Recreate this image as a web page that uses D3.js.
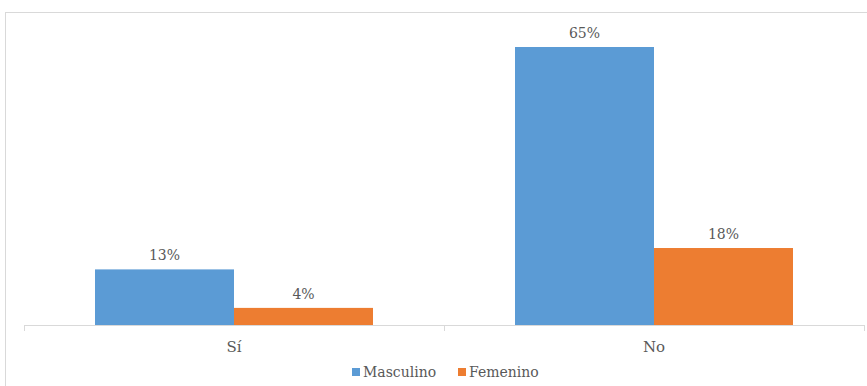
<html>
<head>
<meta charset="utf-8">
<style>
  body { margin: 0; background: #fff; }
</style>
</head>
<body>
<svg id="svg" width="867" height="386"></svg>
<script src="https://d3js.org/d3.v7.min.js"></script>
<script>

var categories = ["Sí", "No"];
var seriesNames = ["Masculino", "Femenino"];
var masculino = [13, 65];
var femenino = [4, 18];
var colors = ["#5B9BD5", "#ED7D31"];
var FONT = "'DejaVu Serif', 'Liberation Serif', serif";

var rows = categories.map((c, i) => ({ cat: c, vals: [masculino[i], femenino[i]] }));

var svg = d3.select("#svg");

// chart frame
svg.append("rect")
  .attr("x", 5.5).attr("y", 12.5)
  .attr("width", 880).attr("height", 400)
  .style("fill", "none").style("stroke", "#d9d9d9");

var x0 = d3.scaleBand().domain(categories).range([24, 864]);
var x1 = d3.scaleBand().domain(seriesNames).range([0, 278]);
var y = d3.scaleLinear().domain([0, 65]).range([325, 47]);

var g = svg.selectAll("g.grp").data(rows)
  .join("g").classed("grp", true)
  .attr("transform", d => "translate(" + (x0(d.cat) + (x0.bandwidth() - 278) / 2) + ",0)");

g.selectAll("rect").data(d => d.vals.map((v, i) => ({ v: v, s: seriesNames[i], i: i })))
  .join("rect")
  .attr("x", d => x1(d.s))
  .attr("y", d => y(d.v))
  .attr("width", x1.bandwidth())
  .attr("height", d => y(0) - y(d.v))
  .style("fill", d => colors[d.i]);

g.selectAll("text").data(d => d.vals.map((v, i) => ({ v: v, s: seriesNames[i] })))
  .join("text")
  .attr("x", d => x1(d.s) + x1.bandwidth() / 2)
  .attr("y", d => y(d.v) - 9)
  .attr("text-anchor", "middle")
  .style("font-family", FONT).style("fill", "#595959")
  .style("font-size", "14px")
  .text(d => d.v + "%");

// category axis
var axis = svg.append("g").attr("transform", "translate(0,325)");
axis.append("line").attr("x1", 24).attr("x2", 864).attr("y1", 0.5).attr("y2", 0.5)
  .style("stroke", "#d9d9d9");
[24, x0("No"), 864].forEach(function (t) {
  axis.append("line").attr("x1", t + 0.5).attr("x2", t + 0.5).attr("y1", 0).attr("y2", 6)
    .style("stroke", "#d9d9d9");
});
axis.selectAll("text.cat").data(categories)
  .join("text").classed("cat", true)
  .attr("x", d => x0(d) + x0.bandwidth() / 2)
  .attr("y", 27)
  .attr("text-anchor", "middle")
  .style("font-family", FONT).style("fill", "#595959")
  .style("font-size", "15px")
  .text(d => d);

// legend
var lg = svg.append("g").attr("transform", "translate(352,372)");
var lx = [0, 106];
seriesNames.forEach(function (s, i) {
  lg.append("rect").attr("x", lx[i]).attr("y", -4).attr("width", 8).attr("height", 8)
    .style("fill", colors[i]);
  lg.append("text").attr("x", lx[i] + 11).attr("y", 5)
    .style("font-family", FONT).style("fill", "#595959")
    .style("font-size", "14px").text(s);
});

</script>
</body>
</html>
